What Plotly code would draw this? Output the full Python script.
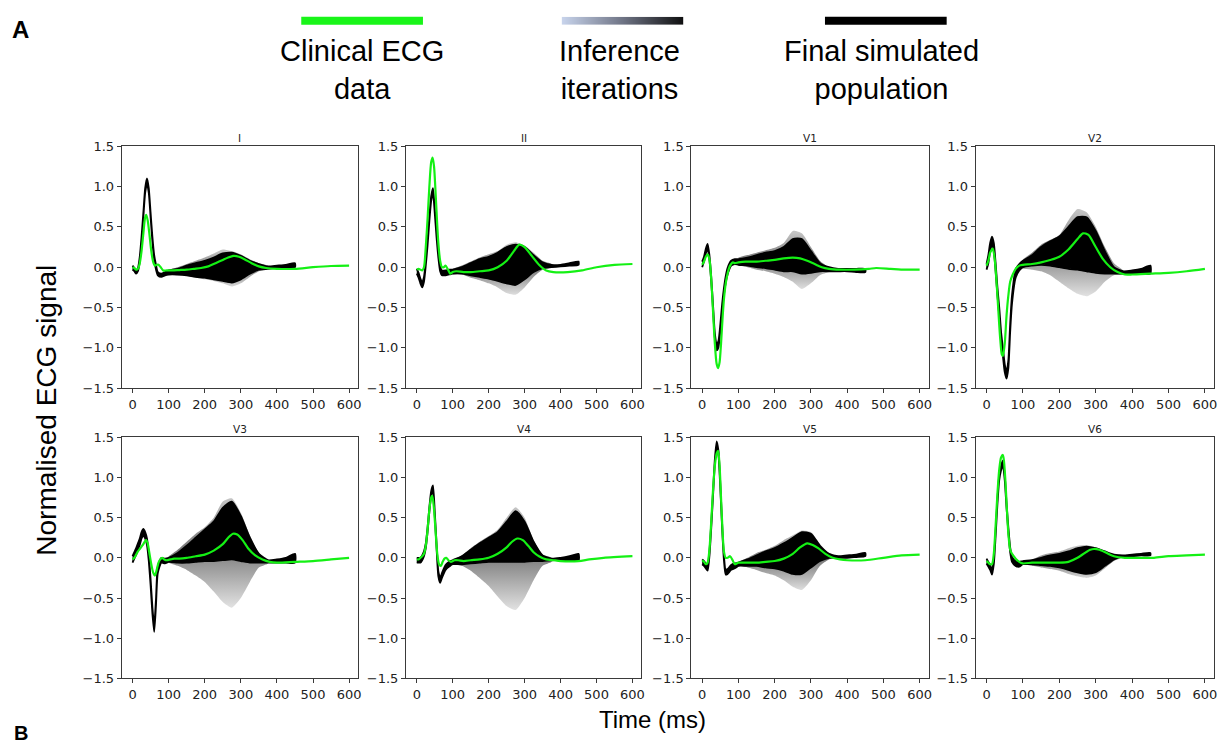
import plotly.graph_objects as go

W, H = 1223, 754

LEADS = ["I", "II", "V1", "V2", "V3", "V4", "V5", "V6"]

# ---------------- clinical ECG (green) ----------------
CLIN_T = {
    "I":  [0,5,10,15,20,25,30,35,38,42,47,52,57,62,67,72,78,85,95,110,130,150,170,190,210,230,250,265,280,295,310,330,350,370,400,450,500,550,600],
    "II": [0,5,10,15,20,25,30,35,40,44,48,52,56,60,65,70,75,80,87,93,100,110,130,150,175,200,225,250,270,285,300,320,340,360,380,420,460,500,550,600],
    "V1": [0,5,10,15,20,25,30,35,40,44,48,52,56,60,65,70,75,80,85,90,100,120,150,175,200,225,250,270,290,310,330,350,380,420,460,480,520,560,600],
    "V2": [0,5,10,17,22,27,32,37,42,45,50,55,60,65,72,80,90,100,125,150,175,200,225,250,265,280,300,320,340,360,380,400,450,500,550,600],
    "V3": [0,5,10,15,20,25,30,35,38,42,47,52,57,62,67,72,77,82,88,95,105,115,130,150,175,200,225,250,265,278,290,305,320,340,360,380,400,450,500,550,600],
    "V4": [0,5,10,15,20,25,30,35,40,43,47,52,57,62,67,72,77,82,88,95,105,115,130,150,175,200,225,250,265,280,295,310,325,340,360,380,400,450,480,520,600],
    "V5": [0,5,10,15,20,25,30,35,40,44,48,52,56,60,65,70,77,84,90,100,120,150,175,200,225,250,270,290,305,320,340,360,380,400,450,500,550,600],
    "V6": [0,5,10,15,20,25,30,35,40,45,48,52,56,60,65,70,75,80,90,100,125,150,175,200,225,250,270,285,295,310,330,350,380,420,460,500,550,600],
}
CLIN_V = {
    "I":  [0,-0.01,-0.03,-0.02,0.05,0.2,0.42,0.62,0.65,0.58,0.4,0.2,0.07,0.02,0.03,0.03,0.0,-0.04,-0.04,-0.04,-0.035,-0.03,-0.02,-0.01,0.01,0.05,0.09,0.12,0.14,0.13,0.1,0.05,0.01,-0.01,-0.02,-0.02,0.0,0.015,0.02],
    "II": [-0.03,-0.02,-0.03,-0.04,0.0,0.25,0.6,1.0,1.3,1.36,1.25,0.95,0.6,0.3,0.08,0.0,0.0,0.02,-0.03,-0.08,-0.06,-0.05,-0.06,-0.06,-0.05,-0.04,0.0,0.08,0.2,0.28,0.25,0.14,0.03,-0.04,-0.06,-0.06,-0.04,0.0,0.03,0.04],
    "V1": [0.03,0.07,0.13,0.16,0.1,-0.15,-0.55,-0.95,-1.2,-1.25,-1.18,-0.95,-0.65,-0.4,-0.2,-0.08,0.0,0.04,0.06,0.05,0.06,0.07,0.07,0.08,0.09,0.11,0.12,0.11,0.08,0.04,0.0,-0.02,-0.03,-0.03,-0.02,-0.01,-0.02,-0.03,-0.03],
    "V2": [0.02,0.08,0.18,0.23,0.12,-0.15,-0.5,-0.85,-1.08,-1.1,-0.95,-0.6,-0.35,-0.18,-0.09,-0.02,0.02,0.03,0.04,0.06,0.09,0.13,0.22,0.35,0.42,0.4,0.25,0.1,0.0,-0.06,-0.09,-0.09,-0.08,-0.07,-0.05,-0.02],
    "V3": [-0.02,0.0,0.04,0.08,0.11,0.14,0.17,0.21,0.22,0.18,0.05,-0.08,-0.18,-0.22,-0.15,-0.06,-0.02,0.0,-0.02,-0.03,-0.02,-0.01,-0.01,0.0,0.02,0.04,0.09,0.17,0.25,0.3,0.29,0.22,0.12,0.03,-0.02,-0.05,-0.06,-0.05,-0.04,-0.02,0.0],
    "V4": [-0.02,-0.02,0.0,0.02,0.05,0.15,0.35,0.6,0.75,0.77,0.65,0.35,0.05,-0.08,-0.1,-0.05,-0.01,0.0,-0.03,-0.05,-0.03,-0.03,-0.04,-0.03,-0.02,0.0,0.05,0.13,0.2,0.24,0.22,0.15,0.07,0.02,-0.02,-0.03,-0.04,-0.04,-0.02,0.0,0.02],
    "V5": [-0.03,-0.05,-0.08,-0.06,0.1,0.45,0.85,1.15,1.3,1.33,1.15,0.75,0.35,0.08,0.0,0.0,0.02,-0.03,-0.08,-0.06,-0.06,-0.06,-0.05,-0.04,-0.01,0.05,0.13,0.18,0.16,0.12,0.05,0.0,-0.02,-0.03,-0.03,0.0,0.03,0.04],
    "V6": [-0.04,-0.06,-0.08,-0.08,0.05,0.4,0.8,1.1,1.25,1.28,1.2,0.95,0.6,0.3,0.1,0.05,0.02,-0.01,-0.05,-0.07,-0.06,-0.06,-0.06,-0.06,-0.05,0.0,0.06,0.1,0.11,0.1,0.06,0.02,0.0,0.0,0.0,0.02,0.03,0.04],
}

# ---------------- final simulated population envelope (black) ----------------
T_SIM = [0,5,10,15,20,25,30,35,40,45,50,55,60,65,70,80,90,100,125,150,175,200,225,250,275,300,325,350,375,400,425,450]
SIM_HI = {
    "I":  [0.02,-0.01,-0.04,-0.01,0.13,0.38,0.68,0.98,1.1,0.98,0.68,0.38,0.15,0.03,-0.06,-0.08,-0.06,-0.04,-0.02,0.02,0.05,0.08,0.12,0.17,0.18,0.14,0.08,0.04,0.01,0.02,0.03,0.05],
    "II": [-0.02,-0.07,-0.14,-0.19,-0.12,0.08,0.33,0.63,0.88,0.98,0.73,0.43,0.18,0.01,-0.04,-0.04,-0.03,-0.03,0.0,0.05,0.1,0.13,0.18,0.25,0.28,0.25,0.15,0.06,0.03,0.03,0.05,0.07],
    "V1": [0.07,0.13,0.23,0.29,0.15,-0.12,-0.47,-0.82,-0.96,-0.91,-0.71,-0.46,-0.26,-0.11,-0.01,0.08,0.1,0.1,0.12,0.15,0.18,0.2,0.25,0.35,0.35,0.2,0.05,0.0,-0.02,-0.02,-0.02,-0.02],
    "V2": [0.04,0.15,0.3,0.38,0.3,0.05,-0.25,-0.5,-0.8,-1.0,-1.2,-1.3,-1.15,-0.7,-0.35,-0.03,0.04,0.08,0.15,0.25,0.32,0.38,0.5,0.62,0.62,0.45,0.2,0.0,-0.05,-0.04,-0.02,0.02],
    "V3": [0.02,0.07,0.12,0.18,0.24,0.32,0.36,0.32,0.24,0.04,-0.26,-0.61,-0.84,-0.51,-0.11,0.0,-0.01,0.0,0.06,0.15,0.25,0.35,0.45,0.62,0.7,0.52,0.25,0.05,-0.03,-0.02,0.0,0.05],
    "V4": [0.0,0.0,0.0,0.03,0.08,0.18,0.38,0.63,0.83,0.9,0.58,0.18,-0.17,-0.25,-0.19,-0.09,-0.05,-0.03,0.02,0.1,0.18,0.25,0.32,0.45,0.58,0.45,0.2,0.03,-0.01,0.0,0.02,0.05],
    "V5": [-0.02,-0.04,-0.07,-0.1,0.08,0.43,0.83,1.23,1.45,1.33,0.93,0.43,0.03,-0.15,-0.14,-0.09,-0.07,-0.06,-0.02,0.03,0.08,0.12,0.18,0.25,0.32,0.3,0.15,0.05,0.02,0.03,0.04,0.06],
    "V6": [-0.01,-0.05,-0.09,-0.15,-0.02,0.33,0.73,1.03,1.15,1.21,1.03,0.68,0.38,0.13,0.01,-0.04,-0.05,-0.04,-0.03,0.0,0.03,0.05,0.08,0.12,0.14,0.12,0.08,0.04,0.03,0.04,0.05,0.06],
}
SIM_LO = {
    "I":  [-0.03,-0.05,-0.08,-0.05,0.07,0.32,0.62,0.92,1.04,0.92,0.62,0.32,0.09,-0.03,-0.1,-0.12,-0.1,-0.09,-0.09,-0.1,-0.12,-0.13,-0.15,-0.17,-0.19,-0.15,-0.08,-0.03,-0.02,-0.01,0.0,0.0],
    "II": [-0.08,-0.13,-0.2,-0.25,-0.18,0.02,0.27,0.57,0.82,0.92,0.67,0.37,0.12,-0.05,-0.1,-0.1,-0.09,-0.08,-0.08,-0.1,-0.12,-0.14,-0.17,-0.2,-0.22,-0.15,-0.06,-0.01,0.0,0.01,0.02,0.03],
    "V1": [0.0,0.07,0.17,0.23,0.09,-0.18,-0.53,-0.88,-1.03,-0.99,-0.79,-0.54,-0.34,-0.19,-0.09,0.02,0.04,0.03,0.02,0.0,-0.01,-0.03,-0.05,-0.05,-0.08,-0.07,-0.05,-0.05,-0.05,-0.05,-0.06,-0.06],
    "V2": [-0.03,0.05,0.2,0.28,0.2,-0.05,-0.35,-0.6,-0.9,-1.1,-1.3,-1.38,-1.25,-0.8,-0.45,-0.13,-0.04,0.0,0.02,0.03,0.02,0.0,-0.02,-0.03,-0.05,-0.07,-0.08,-0.08,-0.08,-0.08,-0.08,-0.08],
    "V3": [-0.06,-0.01,0.04,0.1,0.16,0.24,0.28,0.24,0.16,-0.04,-0.34,-0.69,-0.92,-0.59,-0.19,-0.06,-0.07,-0.05,-0.06,-0.06,-0.05,-0.04,-0.04,-0.03,-0.02,-0.04,-0.06,-0.06,-0.06,-0.06,-0.06,-0.06],
    "V4": [-0.06,-0.06,-0.06,-0.03,0.02,0.12,0.32,0.57,0.77,0.84,0.52,0.12,-0.23,-0.31,-0.25,-0.15,-0.11,-0.08,-0.08,-0.07,-0.06,-0.05,-0.05,-0.05,-0.05,-0.05,-0.04,-0.04,-0.03,-0.03,-0.03,-0.04],
    "V5": [-0.08,-0.1,-0.13,-0.16,0.02,0.37,0.77,1.17,1.39,1.27,0.87,0.37,-0.03,-0.21,-0.2,-0.15,-0.13,-0.1,-0.1,-0.1,-0.12,-0.13,-0.16,-0.2,-0.2,-0.12,-0.04,0.0,0.0,0.0,0.01,0.02],
    "V6": [-0.07,-0.11,-0.15,-0.21,-0.08,0.27,0.67,0.97,1.09,1.15,0.97,0.62,0.32,0.07,-0.05,-0.1,-0.11,-0.08,-0.08,-0.09,-0.1,-0.12,-0.15,-0.18,-0.2,-0.18,-0.1,-0.02,0.02,0.02,0.03,0.03],
}

# ---------------- inference iterations envelope (grey) ----------------
T_ITER = [100,125,150,175,200,225,250,275,300,325,350,375]
ITER_HI = {
    "I":  [-0.03,0.0,0.04,0.08,0.12,0.17,0.22,0.2,0.16,0.1,0.05,0.02],
    "II": [-0.02,0.02,0.07,0.12,0.16,0.2,0.28,0.31,0.27,0.18,0.08,0.04],
    "V1": [0.12,0.15,0.18,0.21,0.24,0.3,0.45,0.42,0.25,0.08,0.0,-0.02],
    "V2": [0.1,0.18,0.28,0.34,0.4,0.58,0.72,0.68,0.5,0.25,0.05,-0.04],
    "V3": [0.02,0.1,0.2,0.3,0.38,0.5,0.7,0.74,0.56,0.28,0.06,-0.02],
    "V4": [-0.02,0.03,0.12,0.2,0.27,0.35,0.5,0.63,0.5,0.22,0.04,0.0],
    "V5": [-0.05,0.0,0.06,0.1,0.15,0.22,0.28,0.34,0.32,0.17,0.06,0.02],
    "V6": [-0.03,-0.02,0.03,0.06,0.08,0.12,0.15,0.16,0.13,0.09,0.05,0.03],
}
ITER_LO = {
    "I":  [-0.09,-0.1,-0.11,-0.13,-0.15,-0.17,-0.2,-0.24,-0.2,-0.12,-0.05,-0.02],
    "II": [-0.09,-0.09,-0.13,-0.16,-0.2,-0.25,-0.32,-0.34,-0.25,-0.12,-0.03,0.0],
    "V1": [0.02,0.0,-0.03,-0.05,-0.08,-0.12,-0.18,-0.27,-0.2,-0.1,-0.06,-0.05],
    "V2": [-0.02,-0.03,-0.05,-0.1,-0.18,-0.26,-0.33,-0.36,-0.3,-0.18,-0.1,-0.09],
    "V3": [-0.06,-0.1,-0.15,-0.22,-0.3,-0.42,-0.55,-0.62,-0.5,-0.3,-0.12,-0.07],
    "V4": [-0.08,-0.1,-0.16,-0.25,-0.35,-0.48,-0.6,-0.65,-0.5,-0.28,-0.1,-0.05],
    "V5": [-0.1,-0.12,-0.15,-0.19,-0.22,-0.28,-0.36,-0.4,-0.28,-0.1,-0.02,0.0],
    "V6": [-0.08,-0.1,-0.12,-0.14,-0.16,-0.2,-0.23,-0.25,-0.22,-0.13,-0.04,0.01],
}

X_TICKS = [0, 100, 200, 300, 400, 500, 600]
Y_TICKS = [-1.5, -1.0, -0.5, 0.0, 0.5, 1.0, 1.5]
GRADIENT_LEVELS = [0, 1]

GREEN = "#14f014"

# panel pixel boxes (left, right), (top, bottom)
COLS_PX = [(122, 359), (407, 643), (693, 931), (978, 1217)]
ROWS_PX = [(142, 389), (439, 685)]

fig = go.Figure()
layout = {}
annotations = []

for i, lead in enumerate(LEADS):
    r, c = divmod(i, 4)
    n = i + 1
    xa = "x" if n == 1 else f"x{n}"
    ya = "y" if n == 1 else f"y{n}"
    # iterations envelope
    fig.add_trace(go.Scatter(
        x=T_ITER + T_ITER[::-1], y=ITER_HI[lead] + ITER_LO[lead][::-1],
        xaxis=xa, yaxis=ya, mode="lines", fill="toself",
        line=dict(color="rgba(0,0,0,0)", width=0, shape="spline", smoothing=0.6),
        fillgradient=dict(type="vertical",
                          colorscale=[[0, "#e8e8e8"], [0.45, "#8f8f8f"], [0.55, "#7a7a7a"], [1, "#c4c4c4"]],
                          start=min(ITER_LO[lead]), stop=max(ITER_HI[lead])),
        hoverinfo="skip", showlegend=False))
    # final population envelope
    fig.add_trace(go.Scatter(
        x=T_SIM + T_SIM[::-1], y=SIM_HI[lead] + SIM_LO[lead][::-1],
        xaxis=xa, yaxis=ya, mode="lines", fill="toself", fillcolor="#000000",
        line=dict(color="#000000", width=1.8, shape="spline", smoothing=0.6),
        hoverinfo="skip", showlegend=False))
    # clinical
    fig.add_trace(go.Scatter(
        x=CLIN_T[lead], y=CLIN_V[lead], xaxis=xa, yaxis=ya, mode="lines",
        line=dict(color=GREEN, width=2.2, shape="spline", smoothing=0.7),
        hoverinfo="skip", showlegend=False))

    x0, x1 = COLS_PX[c]
    y0, y1 = ROWS_PX[r]
    axcommon = dict(showline=True, mirror=True, linecolor="#3a3a3a", linewidth=1,
                    ticks="outside", ticklen=4, tickcolor="#3a3a3a", tickwidth=1,
                    showgrid=False, zeroline=False,
                    tickfont=dict(family="DejaVu Sans", size=13, color="#222222"))
    layout["xaxis" if n == 1 else f"xaxis{n}"] = dict(
        domain=[x0 / W, x1 / W], range=[-30, 625], tickvals=X_TICKS,
        anchor=ya, **axcommon)
    layout["yaxis" if n == 1 else f"yaxis{n}"] = dict(
        domain=[1 - y1 / H, 1 - y0 / H], range=[-1.5, 1.5], tickvals=Y_TICKS,
        tickformat=".1f", anchor=xa, **axcommon)
    annotations.append(dict(
        text=lead, xref="paper", yref="paper", x=(x0 + x1) / 2 / W, y=1 - (y0 - 8) / H,
        xanchor="center", yanchor="middle", showarrow=False,
        font=dict(family="DejaVu Sans", size=10.5, color="#222222")))

# legend gradient bar as a heatmap on hidden axes
fig.add_trace(go.Heatmap(
    x=GRADIENT_LEVELS, y=[0], z=[GRADIENT_LEVELS], xaxis="x9", yaxis="y9",
    zsmooth="best", showscale=False, hoverinfo="skip",
    colorscale=[[0, "#c8d4ec"], [0.5, "#6f7485"], [1, "#0e0e0e"]]))
layout["xaxis9"] = dict(domain=[563 / W, 685 / W], range=[0, 1], visible=False, anchor="y9")
layout["yaxis9"] = dict(domain=[1 - 18 / H, 1 - 10 / H], range=[-0.5, 0.5], visible=False, anchor="x9")

shapes = [
    dict(type="rect", xref="paper", yref="paper", x0=302 / W, x1=424 / W, y0=1 - 18 / H, y1=1 - 10 / H,
         fillcolor="#19f519", line=dict(width=0)),
    dict(type="rect", xref="paper", yref="paper", x0=827 / W, x1=949 / W, y0=1 - 18 / H, y1=1 - 10 / H,
         fillcolor="#000000", line=dict(width=0)),
]

LEG_FONT = dict(family="Liberation Sans", size=29, color="#000000")
for txt, xc in [("Clinical ECG<br>data", 363), ("Inference<br>iterations", 621), ("Final simulated<br>population", 884)]:
    annotations.append(dict(text=txt, xref="paper", yref="paper", x=xc / W, y=1 - 64 / H,
                            xanchor="center", yanchor="middle", showarrow=False, font=LEG_FONT))

annotations += [
    dict(text="<b>A</b>", xref="paper", yref="paper", x=21 / W, y=1 - 23 / H, xanchor="center",
         yanchor="middle", showarrow=False, font=dict(family="Liberation Sans", size=24, color="#000")),
    dict(text="<b>B</b>", xref="paper", yref="paper", x=21 / W, y=1 - 741 / H, xanchor="center",
         yanchor="middle", showarrow=False, font=dict(family="Liberation Sans", size=20, color="#000")),
    dict(text="Normalised ECG signal", xref="paper", yref="paper", x=47 / W, y=1 - 411 / H,
         xanchor="center", yanchor="middle", textangle=-90, showarrow=False,
         font=dict(family="Liberation Sans", size=28, color="#000")),
    dict(text="Time (ms)", xref="paper", yref="paper", x=654 / W, y=1 - 727 / H,
         xanchor="center", yanchor="middle", showarrow=False,
         font=dict(family="Liberation Sans", size=24, color="#000")),
]

fig.update_layout(width=W, height=H, autosize=False,
                  margin=dict(l=0, r=0, t=0, b=0),
                  paper_bgcolor="white", plot_bgcolor="white",
                  showlegend=False, annotations=annotations, shapes=shapes, **layout)

fig.write_html("out.html")
